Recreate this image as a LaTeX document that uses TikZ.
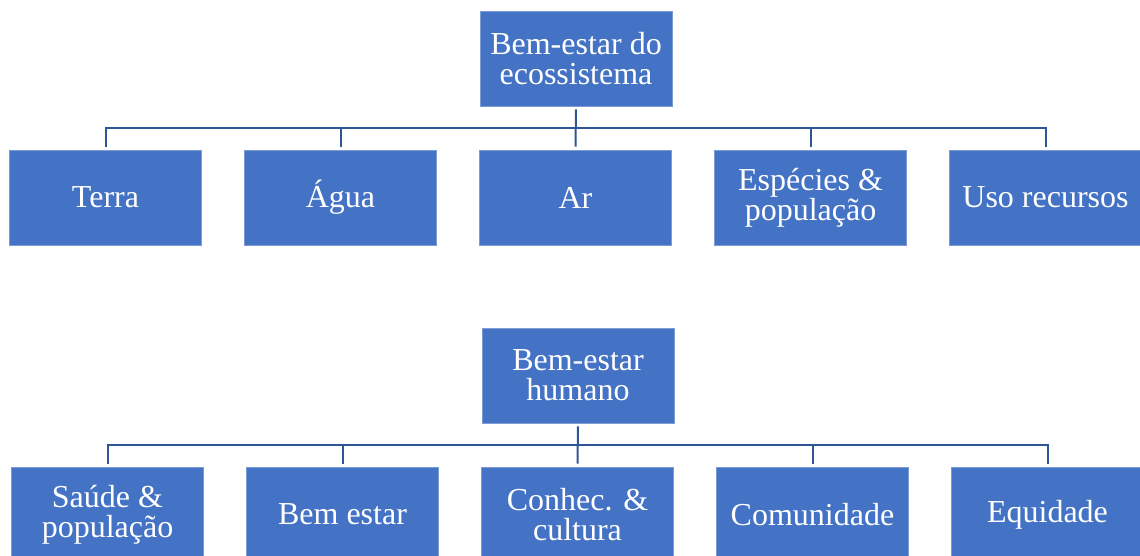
\documentclass[tikz,border=0pt]{standalone}
\usepackage{fontspec}
\setmainfont{Liberation Serif}
\usetikzlibrary{positioning, calc}

\definecolor{boxblue}{HTML}{4472C4}
\definecolor{rimblue}{HTML}{7C9CD6}
\definecolor{lineblue}{HTML}{2F5597}

\tikzset{
  box/.style={draw=rimblue, line width=0.8pt, fill=boxblue, text=white,
    minimum width=192pt, minimum height=95pt, inner sep=0pt, align=center,
    font=\fontsize{32}{30}\selectfont},
  conn/.style={draw=lineblue, line width=2pt}
}

\begin{document}
\begin{tikzpicture}[x=1pt, y=-1pt]
        \clip (0,0) rectangle (1140,555);

        % Ecosystem tree
        \node[box] (eco) at (576,58.5) {Bem-estar do\\ecossistema};
        \node[box] (terra) at (105.5,197.5) {Terra};
        \node[box] (agua) at (340.5,197.5) {Água};
        \node[box] (ar) at (575.5,197.5) {Ar};
        \node[box] (especies) at (810.5,197.5) {Espécies \&\\população};
        \node[box] (uso) at (1045.5,197.5) {Uso recursos};

        \coordinate (ecobar) at (576,128);
        \draw[conn, shorten <=3pt, shorten >=3pt] (eco.south) -- (ar.north);
        \draw[conn] ([yshift=3pt]terra.north) |- (ecobar) -| ([yshift=3pt]uso.north);
        \foreach \n in {agua, especies}
            \draw[conn] ([yshift=3pt]\n.north) -- (\n.north |- ecobar);

        % Human tree
        \node[box] (humano) at (578,375.5) {Bem-estar\\humano};
        \node[box] (saude) at (107.5,514.5) {Saúde \&\\população};
        \node[box] (bemestar) at (342.5,514.5) {Bem estar};
        \node[box] (conhec) at (577.5,514.5) {Conhec. \&\\cultura};
        \node[box] (comunidade) at (812.5,514.5) {Comunidade};
        \node[box] (equidade) at (1047.5,514.5) {Equidade};

        \coordinate (humbar) at (577,445);
        \draw[conn, shorten <=3pt, shorten >=3pt] (humano.south) -- (conhec.north);
        \draw[conn] ([yshift=3pt]saude.north) |- (humbar) -| ([yshift=3pt]equidade.north);
        \foreach \n in {bemestar, comunidade}
            \draw[conn] ([yshift=3pt]\n.north) -- (\n.north |- humbar);
\end{tikzpicture}
\end{document}
